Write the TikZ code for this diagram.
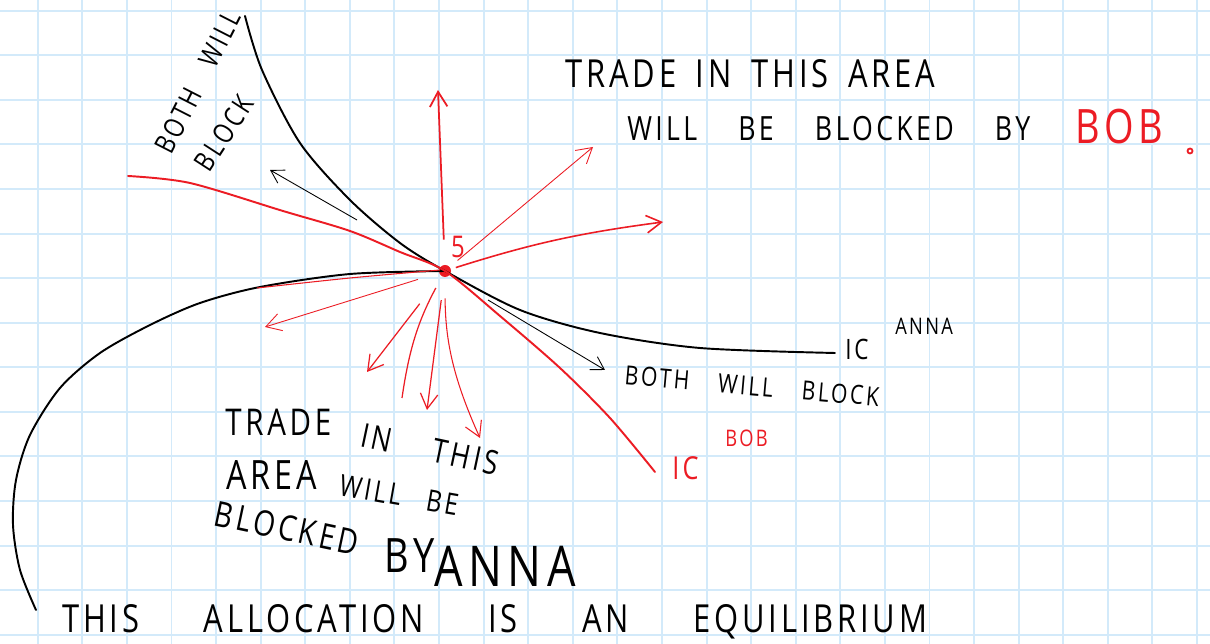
\documentclass[tikz,border=0pt]{standalone}
\usepackage{fontspec}
\usepackage{tikz}
\usetikzlibrary{arrows.meta,positioning}
\newfontfamily\hand[FakeStretch=0.8,LetterSpace=10]{Open Sans}
\definecolor{gridblue}{HTML}{D3EAFA}
\definecolor{penred}{HTML}{EC1C24}
\newcommand{\handat}[1]{\hand\fontsize{#1}{#1}\selectfont}
\newcommand{\spread}[2]{\makebox[#1][s]{#2}}

\begin{document}
\begin{tikzpicture}[
  x=0.02cm,
  y=-0.02cm,
  every node/.style={inner sep=0pt},
  gridline/.style={draw=gridblue, line width=1.1pt},
  icline/.style={line width=1.1pt, line cap=round},
  tradearrow/.style={
    -{Straight Barb[length=3mm,width=3.5mm]},
    draw=penred,
    line width=0.7pt
  },
  blockarrow/.style={
    -{Straight Barb[length=2.5mm,width=3mm]},
    draw=black,
    line width=0.5pt
  },
  note/.style={font=\handat{#1}, text=black},
  note/.default=20pt,
  rednote/.style={note=#1, text=penred},
  rednote/.default=20pt
]

\useasboundingbox (0,0) rectangle (1210,644);
\fill[white] (0,0) rectangle (1210,644);

% squared paper
\foreach \i in {0,...,26}
  \draw[gridline] ({37.7+44.59*\i},0) -- ({37.7+44.59*\i},644);
\foreach \j in {0,...,14}
  \draw[gridline] (0,{10.7+44.57*\j}) -- (1210,{10.7+44.57*\j});

% the allocation
\node[circle, fill=penred, minimum size=0.24cm] (alloc) at (445,271) {};
\node[rednote=17pt] (five) at (458,247) {5};

% indifference curves
\draw[icline] plot[smooth] coordinates {
  (245,16) (262,70) (300,143) (350,200) (400,243) (alloc.center)
  (520,310) (600,333) (700,348) (835,353)};
\draw[icline] plot[smooth] coordinates {
  (36,610) (20,570) (13,525) (16,480) (30,435) (60,388) (100,353)
  (150,325) (200,303) (260,287) (350,274) (alloc.center)};
\draw[icline, penred] plot[smooth] coordinates {
  (128,176) (190,183) (283,211) (350,231) (400,252) (alloc.center)
  (500,316) (560,368) (610,418) (655,472)};
\draw[penred, line width=0.6pt] plot[smooth] coordinates {
  (257,288) (350,278) (440,270)};

% arrow ends
\coordinate (upend)    at (438,90);
\coordinate (neend)    at (593,147);
\coordinate (eend)     at (663,222);
\coordinate (wend)     at (265,327);
\coordinate (swend)    at (367,372);
\coordinate (sline)    at (402,398);
\coordinate (send)     at (427,410);
\coordinate (sseend)   at (480,438);
\coordinate (nwfrom)   at (357,220);
\coordinate (nwend)    at (270,170);
\coordinate (sefrom)   at (488,300);
\coordinate (seend)    at (605,370);

% trade blocked by Bob
\draw[tradearrow, line width=1pt, shorten <=0.5cm] (alloc) -- (upend);
\draw[tradearrow, line width=0.5pt, shorten <=0.2cm] (alloc) -- (neend);
\draw[tradearrow, line width=0.9pt, shorten <=0.1cm] (alloc) to[bend left=5] (eend);

% trade blocked by Anna
\draw[tradearrow, line width=0.5pt, shorten <=0.44cm] (alloc) -- (wend);
\draw[tradearrow, shorten <=0.7cm] (alloc) -- (swend);
\draw[penred, line width=0.7pt, shorten <=0.26cm] (alloc) to[bend right=10] (sline);
\draw[tradearrow, shorten <=0.46cm] (alloc) -- (send);
\draw[tradearrow, line width=0.6pt, shorten <=0.42cm] (alloc) to[bend right=12] (sseend);

% both will block
\draw[blockarrow] (nwfrom) -- (nwend);
\draw[blockarrow] (sefrom) -- (seend);

% labels
\node[note=22pt, anchor=base west] (tradebob) at (565,88)
  {\spread{7.4cm}{TRADE IN THIS AREA}};
\node[note=19pt, anchor=base west] (blockedbob) at (627,141)
  {\spread{8.06cm}{WILL BE BLOCKED BY}};
\node[rednote=27pt, anchor=base west] (bob) at (1075,144) {BOB};
\node[circle, draw=penred, line width=1pt, minimum size=0.1cm] (bobdot) at (1190,151) {};

\node[note=16pt, rotate=63] (bothnw) at (198,82) {\spread{3.1cm}{BOTH WILL}};
\node[note=16pt, rotate=57] (blocknw) at (224,133) {BLOCK};
\node[note=15pt, rotate=-5] (bothse) at (752,386) {\spread{5.1cm}{BOTH WILL BLOCK}};

\node[note=16pt, anchor=base west] (icanna) at (845,360) {IC};
\node[note=13pt, anchor=base west] (anna) at (895,335) {ANNA};
\node[rednote=18pt, anchor=base west] (icbob) at (672,480) {IC};
\node[rednote=13pt, anchor=base west] (bobsup) at (725,447) {BOB};

\node[note=21pt, anchor=base west] (tradeanna) at (225,436) {TRADE};
\node[note=19pt, rotate=-12] (inthis) at (430,449) {\spread{2.8cm}{IN THIS}};
\node[note=23pt, anchor=base west] (area) at (226,490) {AREA};
\node[note=17pt, rotate=-10] (willbe) at (399,495) {\spread{2.4cm}{WILL BE}};
\node[note=20pt, rotate=-12] (blocked) at (287,528) {BLOCKED};
\node[note=27pt] (by) at (410,556) {BY};
\node[note=32pt] (annabig) at (505,566) {ANNA};

\node[note=22pt, anchor=base west] (equil) at (62,633)
  {\spread{17.3cm}{THIS ALLOCATION IS AN EQUILIBRIUM}};

\end{tikzpicture}
\end{document}
